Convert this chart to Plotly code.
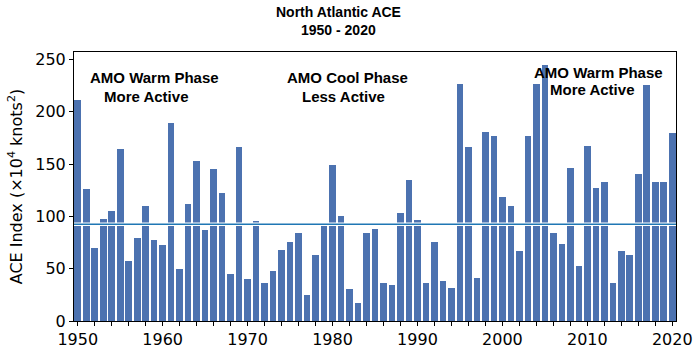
import plotly.graph_objects as go

years = list(range(1950, 2021))
ace = [211, 126, 70, 98, 105, 164, 57, 79, 110, 77,
       73, 189, 50, 112, 153, 87, 145, 122, 45, 166,
       40, 96, 36, 48, 68, 76, 84, 25, 63, 91,
       149, 100, 31, 17, 84, 88, 36, 34, 103, 135,
       97, 36, 76, 38, 32, 227, 166, 41, 181, 177,
       119, 110, 67, 177, 227, 245, 84, 74, 146, 53,
       167, 127, 133, 36, 67, 63, 141, 226, 133, 133, 180]
mean_ace = 92.5
x_ticks = list(range(1950, 2021, 10))
y_ticks = [0, 50, 100, 150, 200, 250]

BAR = "#4C72B0"
LINE = "#1f77b4"

ML, MR, MT, MB = 74, 24, 52, 32
W, H = 700, 353
plot_h = H - MT - MB
plot_w = W - ML - MR

fig = go.Figure()
fig.add_trace(go.Bar(x=years, y=ace, width=0.78,
                     marker=dict(color=BAR, line=dict(width=0)),
                     showlegend=False, hoverinfo="x+y"))

# mean line with white halo
fig.add_shape(type="line", xref="paper", yref="y", x0=0, x1=1, y0=mean_ace, y1=mean_ace,
              line=dict(color="white", width=3.5))
fig.add_shape(type="line", xref="paper", yref="y", x0=0, x1=1, y0=mean_ace, y1=mean_ace,
              line=dict(color=LINE, width=1.6))

afont = dict(family="Liberation Sans, Arial, sans-serif", size=15, color="black")
notes = [
    ("<b>AMO Warm Phase</b>", 1959.03, 233.3),
    ("<b>More Active</b>", 1958.08, 215.0),
    ("<b>AMO Cool Phase</b>", 1981.75, 233.3),
    ("<b>Less Active</b>", 1981.28, 215.0),
    ("<b>AMO Warm Phase</b>", 2011.34, 238.0),
    ("<b>More Active</b>", 2010.6, 221.0),
]
for t, xx, yy in notes:
    fig.add_annotation(text=t, x=xx, y=yy, xref="x", yref="y", showarrow=False,
                       xanchor="center", yanchor="middle", font=afont)

tfont = dict(family="Liberation Sans, Arial, sans-serif", size=14, color="black")
fig.add_annotation(text="<b>North Atlantic ACE</b>", x=(338 - ML) / plot_w, y=(H - MB - 12) / plot_h,
                   xref="paper", yref="paper", showarrow=False, font=tfont,
                   xanchor="center", yanchor="middle")
fig.add_annotation(text="<b>1950 - 2020</b>", x=(338 - ML) / plot_w, y=(H - MB - 30) / plot_h,
                   xref="paper", yref="paper", showarrow=False, font=tfont,
                   xanchor="center", yanchor="middle")

fig.update_layout(
    width=W, height=H,
    margin=dict(l=ML, r=MR, t=MT, b=MB, autoexpand=False),
    plot_bgcolor="white", paper_bgcolor="white",
    font=dict(family="DejaVu Sans", size=16, color="black"),
    bargap=0,
)
fig.update_xaxes(range=[1949.56, 2020.44], tickvals=x_ticks, ticks="outside", ticklen=4,
                 tickwidth=1, tickcolor="black", showline=True, linecolor="black", linewidth=1,
                 mirror=True, showgrid=False, zeroline=False, automargin=False,
                 minor=dict(dtick=2, tick0=1950, ticks="outside", ticklen=4, tickcolor="black", showgrid=False),
                 tickfont=dict(family="DejaVu Sans", size=16, color="black"))
fig.update_yaxes(range=[0, 257.2], tickvals=y_ticks, ticks="outside", ticklen=4,
                 tickwidth=1, tickcolor="black", showline=True, linecolor="black", linewidth=1,
                 mirror=True, showgrid=False, zeroline=False, automargin=False,
                 title=dict(text="ACE Index (×10<sup>4</sup> knots<sup>2</sup>)", standoff=8,
                            font=dict(family="DejaVu Sans", size=16, color="black")),
                 tickfont=dict(family="DejaVu Sans", size=16, color="black"))

fig.write_html("out.html")
